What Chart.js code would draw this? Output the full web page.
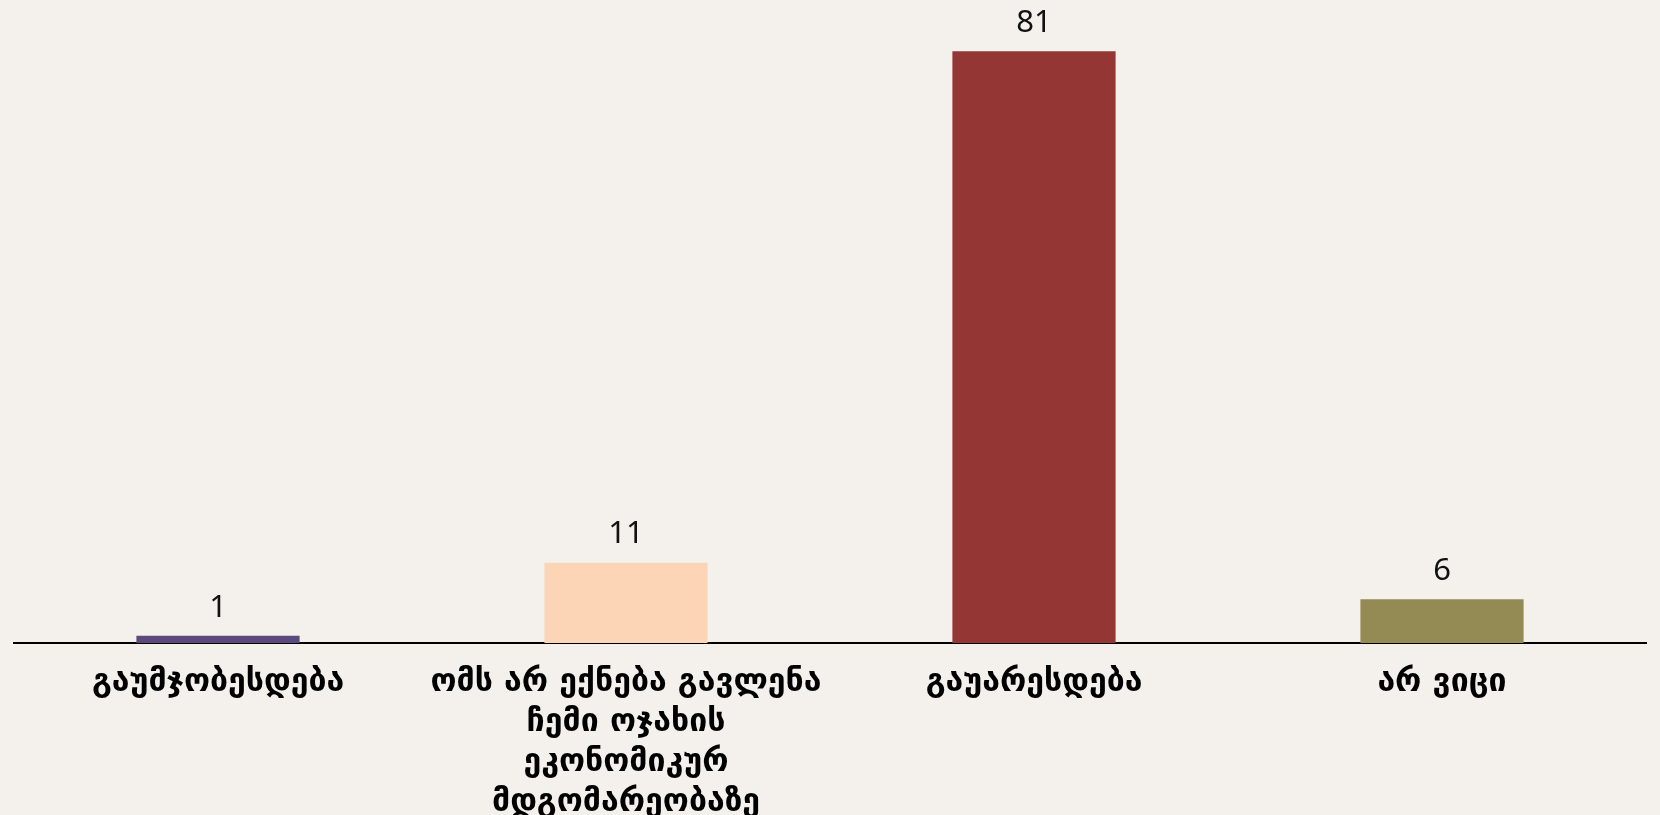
<!DOCTYPE html>
<html>
<head>
<meta charset="utf-8">
<script src="https://cdn.jsdelivr.net/npm/chart.js@4"></script>
<style>
  html, body { margin: 0; padding: 0; background: #f4f1ec; }
  #wrap { width: 1660px; height: 815px; }
</style>
</head>
<body>
<div id="wrap"><canvas id="expectChart" width="1660" height="815"></canvas></div>
<script>
const categories = [
    'გაუმჯობესდება',
    ['ომს არ ექნება გავლენა', 'ჩემი ოჯახის', 'ეკონომიკურ', 'მდგომარეობაზე'],
    'გაუარესდება',
    'არ ვიცი'
];
const shares = [1, 11, 81, 6];
const barColors = ['#5d4a7c', '#fbd5b5', '#943634', '#948a54'];

const tickSize = 32;

// value labels above each bar
const valueLabels = {
    id: 'valueLabels',
    afterDatasetsDraw(chart) {
        const ctx = chart.ctx;
        const meta = chart.getDatasetMeta(0);
        ctx.save();
        ctx.font = "31px 'Noto Sans', sans-serif";
        ctx.fillStyle = '#111';
        ctx.textAlign = 'center';
        ctx.textBaseline = 'middle';
        meta.data.forEach((bar, i) => {
            ctx.fillText(String(shares[i]), bar.x, bar.y - 28);
        });
        ctx.restore();
    }
};

new Chart(document.getElementById('expectChart'), {
    type: 'bar',
    data: {
        labels: categories,
        datasets: [{
            data: shares,
            backgroundColor: barColors,
            barPercentage: 0.4,
            categoryPercentage: 1
        }]
    },
    options: {
        responsive: false,
        animation: false,
        layout: { padding: { top: 22, left: 14, right: 14, bottom: 0 } },
        plugins: {
            legend: { display: false },
            tooltip: { enabled: false }
        },
        scales: {
            x: {
                grid: { display: false },
                border: { color: '#000', width: 2 },
                ticks: {
                    color: '#000',
                    maxRotation: 0,
                    autoSkip: false,
                    padding: 12,
                    font: { family: "'DejaVu Sans', sans-serif", size: tickSize, weight: 'bold', lineHeight: 40 / tickSize }
                },
                afterFit(scale) { scale.height = 172; }
            },
            y: {
                display: false,
                min: 0,
                max: 85
            }
        }
    },
    plugins: [valueLabels]
});
</script>
</body>
</html>
